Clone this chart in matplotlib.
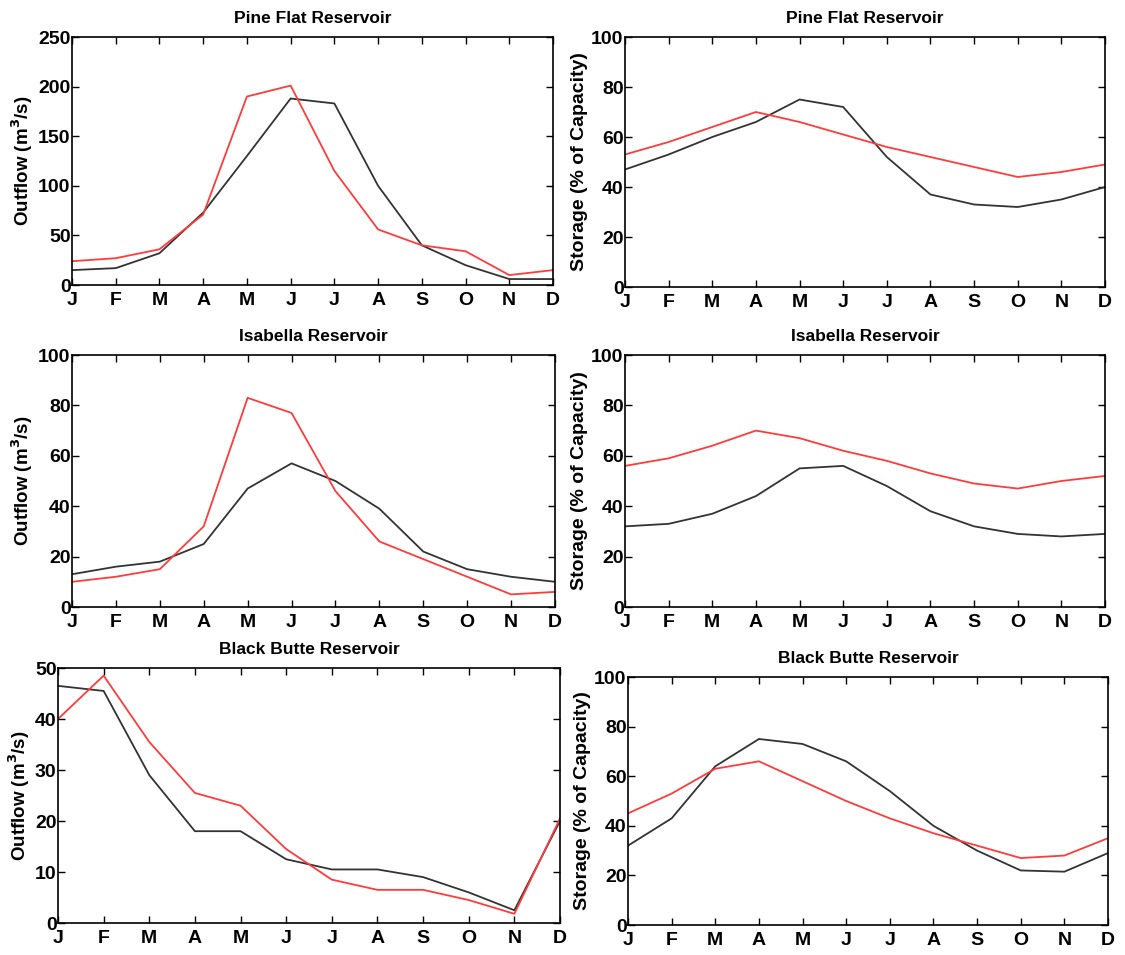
import numpy as np
import matplotlib.pyplot as plt

plt.rcParams['font.family'] = ['Liberation Sans', 'DejaVu Sans']
plt.rcParams['font.weight'] = 'bold'

months = ['J', 'F', 'M', 'A', 'M', 'J', 'J', 'A', 'S', 'O', 'N', 'D']

# Pine Flat
pine_out_obs = [15, 17, 32, 73, 130, 188, 183, 100, 40, 20, 6, 6]
pine_out_sim = [24, 27, 36, 71, 190, 201, 115, 56, 40, 34, 10, 15]
pine_sto_obs = [47, 53, 60, 66, 75, 72, 52, 37, 33, 32, 35, 40]
pine_sto_sim = [53, 58, 64, 70, 66, 61, 56, 52, 48, 44, 46, 49]

# Isabella
isa_out_obs = [13, 16, 18, 25, 47, 57, 50, 39, 22, 15, 12, 10]
isa_out_sim = [10, 12, 15, 32, 83, 77, 46, 26, 19, 12, 5, 6]
isa_sto_obs = [32, 33, 37, 44, 55, 56, 48, 38, 32, 29, 28, 29]
isa_sto_sim = [56, 59, 64, 70, 67, 62, 58, 53, 49, 47, 50, 52]

# Black Butte
bb_out_obs = [46.5, 45.5, 29, 18, 18, 12.5, 10.5, 10.5, 9, 6, 2.5, 20]
bb_out_sim = [40, 48.5, 35.5, 25.5, 23, 14.5, 8.5, 6.5, 6.5, 4.5, 1.8, 20.5]
bb_sto_obs = [32, 43, 64, 75, 73, 66, 54, 40, 30, 22, 21.5, 29]
bb_sto_sim = [45, 53, 63, 66, 58, 50, 43, 37, 32, 27, 28, 35]

W, H = 1125, 955
fig = plt.figure(figsize=(W / 100, H / 100), dpi=100)


def box(l, r, t, b):
    return [l / W, 1 - b / H, (r - l) / W, (b - t) / H]


outflow_lab = 'Outflow (m$^\\mathbf{3}$/s)'
storage_lab = 'Storage (% of Capacity)'
panels = [
    (box(72, 553, 37, 285), 'Pine Flat Reservoir', pine_out_obs, pine_out_sim, 250, 50, outflow_lab),
    (box(625, 1105, 37, 287), 'Pine Flat Reservoir', pine_sto_obs, pine_sto_sim, 100, 20, storage_lab),
    (box(72, 555, 355, 607), 'Isabella Reservoir', isa_out_obs, isa_out_sim, 100, 20, outflow_lab),
    (box(625, 1105, 355, 607), 'Isabella Reservoir', isa_sto_obs, isa_sto_sim, 100, 20, storage_lab),
    (box(58, 560, 668, 923), 'Black Butte Reservoir', bb_out_obs, bb_out_sim, 50, 10, outflow_lab),
    (box(628, 1108, 677, 925), 'Black Butte Reservoir', bb_sto_obs, bb_sto_sim, 100, 20, storage_lab),
]

x = np.arange(12)
for rect, title, obs, sim, ymax, step, ylab in panels:
    ax = fig.add_axes(rect)
    ax.plot(x, obs, color='#333333', lw=1.3)
    ax.plot(x, sim, color='#ff3b3b', lw=1.3)
    ax.set_xlim(0, 11)
    ax.set_ylim(0, ymax)
    ax.set_xticks(x)
    ax.set_xticklabels(months)
    ax.set_yticks(np.arange(0, ymax + 1, step))
    ax.tick_params(direction='in', top=True, right=True, length=5, width=1,
                   labelsize=14)
    ax.tick_params(axis='x', pad=5)
    ax.tick_params(axis='y', pad=1)
    for lab in ax.get_xticklabels() + ax.get_yticklabels():
        lab.set_fontweight('bold')
    for s in ax.spines.values():
        s.set_linewidth(1.2)
    ax.set_title(title, fontsize=12.5, fontweight='bold', pad=10)
    if ylab == storage_lab:
        ax.set_ylabel(ylab, fontsize=14, fontweight='bold', labelpad=2)
    else:
        ax.set_ylabel(ylab, fontsize=13.5, fontweight='bold', labelpad=2)

fig.savefig('out.png', dpi=100)
